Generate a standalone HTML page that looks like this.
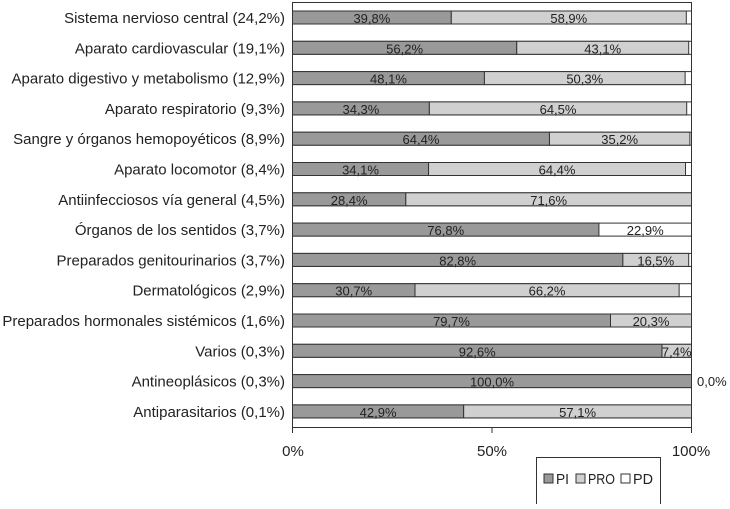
<!DOCTYPE html><html><head><meta charset="utf-8"><style>
body{margin:0;background:#fff;width:730px;height:504px;overflow:hidden}
text{font-family:"Liberation Sans Narrow","Liberation Sans",sans-serif;fill:#222}
</style></head><body>
<svg width="730" height="504" xmlns="http://www.w3.org/2000/svg">
<rect x="292.5" y="2.5" width="399" height="425" fill="#fff" stroke="#333"/>
<g id="bars"></g>
<line x1="292.5" y1="427" x2="292.5" y2="433" stroke="#333"/>
<line x1="492" y1="427" x2="492" y2="433" stroke="#333"/>
<line x1="691.5" y1="427" x2="691.5" y2="433" stroke="#333"/>
<text x="293" y="456" font-size="15" text-anchor="middle">0%</text>
<text x="492" y="456" font-size="15" text-anchor="middle">50%</text>
<text x="691" y="456" font-size="15" text-anchor="middle">100%</text>
<rect x="536.5" y="457.5" width="124" height="47" fill="#fff" stroke="#333"/>
<rect x="544" y="474" width="9" height="9" fill="#999" stroke="#333"/>
<text x="556" y="484" font-size="15" textLength="13" lengthAdjust="spacingAndGlyphs">PI</text>
<rect x="576" y="474" width="9" height="9" fill="#d0d0d0" stroke="#333"/>
<text x="588" y="484" font-size="15" textLength="27" lengthAdjust="spacingAndGlyphs">PRO</text>
<rect x="621" y="474" width="9" height="9" fill="#fff" stroke="#333"/>
<text x="633" y="484" font-size="15" textLength="20" lengthAdjust="spacingAndGlyphs">PD</text>
<text x="697" y="386" font-size="13">0,0%</text>
</svg>
<script>
var d=[["Sistema nervioso central (24,2%)",39.8,58.9],["Aparato cardiovascular (19,1%)",56.2,43.1],["Aparato digestivo y metabolismo (12,9%)",48.1,50.3],["Aparato respiratorio (9,3%)",34.3,64.5],["Sangre y órganos hemopoyéticos (8,9%)",64.4,35.2],["Aparato locomotor (8,4%)",34.1,64.4],["Antiinfecciosos vía general (4,5%)",28.4,71.6],["Órganos de los sentidos (3,7%)",76.8,0],["Preparados genitourinarios (3,7%)",82.8,16.5],["Dermatológicos (2,9%)",30.7,66.2],["Preparados hormonales sistémicos (1,6%)",79.7,20.3],["Varios (0,3%)",92.6,7.4],["Antineoplásicos (0,3%)",100,0],["Antiparasitarios (0,1%)",42.9,57.1]];
var g=document.getElementById("bars"),s="",x0=292.5,W=399;
d.forEach(function(r,i){var y=11+i*30.3,a=r[1]*W/100,b=r[2]*W/100;
s+='<text x="285" y="'+(y+12)+'" font-size="15" text-anchor="end">'+r[0]+'</text>';
s+='<rect x="'+x0+'" y="'+y+'" width="'+W+'" height="13" fill="#fff" stroke="#333"/>';
s+='<rect x="'+x0+'" y="'+y+'" width="'+a+'" height="13" fill="#999" stroke="#333"/>';
if(b>0)s+='<rect x="'+(x0+a)+'" y="'+y+'" width="'+b+'" height="13" fill="#d0d0d0" stroke="#333"/>';
s+='<text x="'+(x0+a/2)+'" y="'+(y+12)+'" font-size="13" text-anchor="middle">'+r[1].toFixed(1).replace(".",",")+'%</text>';
if(r[2]>0)s+='<text x="'+(x0+a+b/2)+'" y="'+(y+12)+'" font-size="13" text-anchor="middle">'+r[2].toFixed(1).replace(".",",")+'%</text>';
if(i==7)s+='<text x="'+(x0+a+(W-a)/2)+'" y="'+(y+12)+'" font-size="13" text-anchor="middle">22,9%</text>';
});
g.innerHTML=s;
</script>
</body></html>
